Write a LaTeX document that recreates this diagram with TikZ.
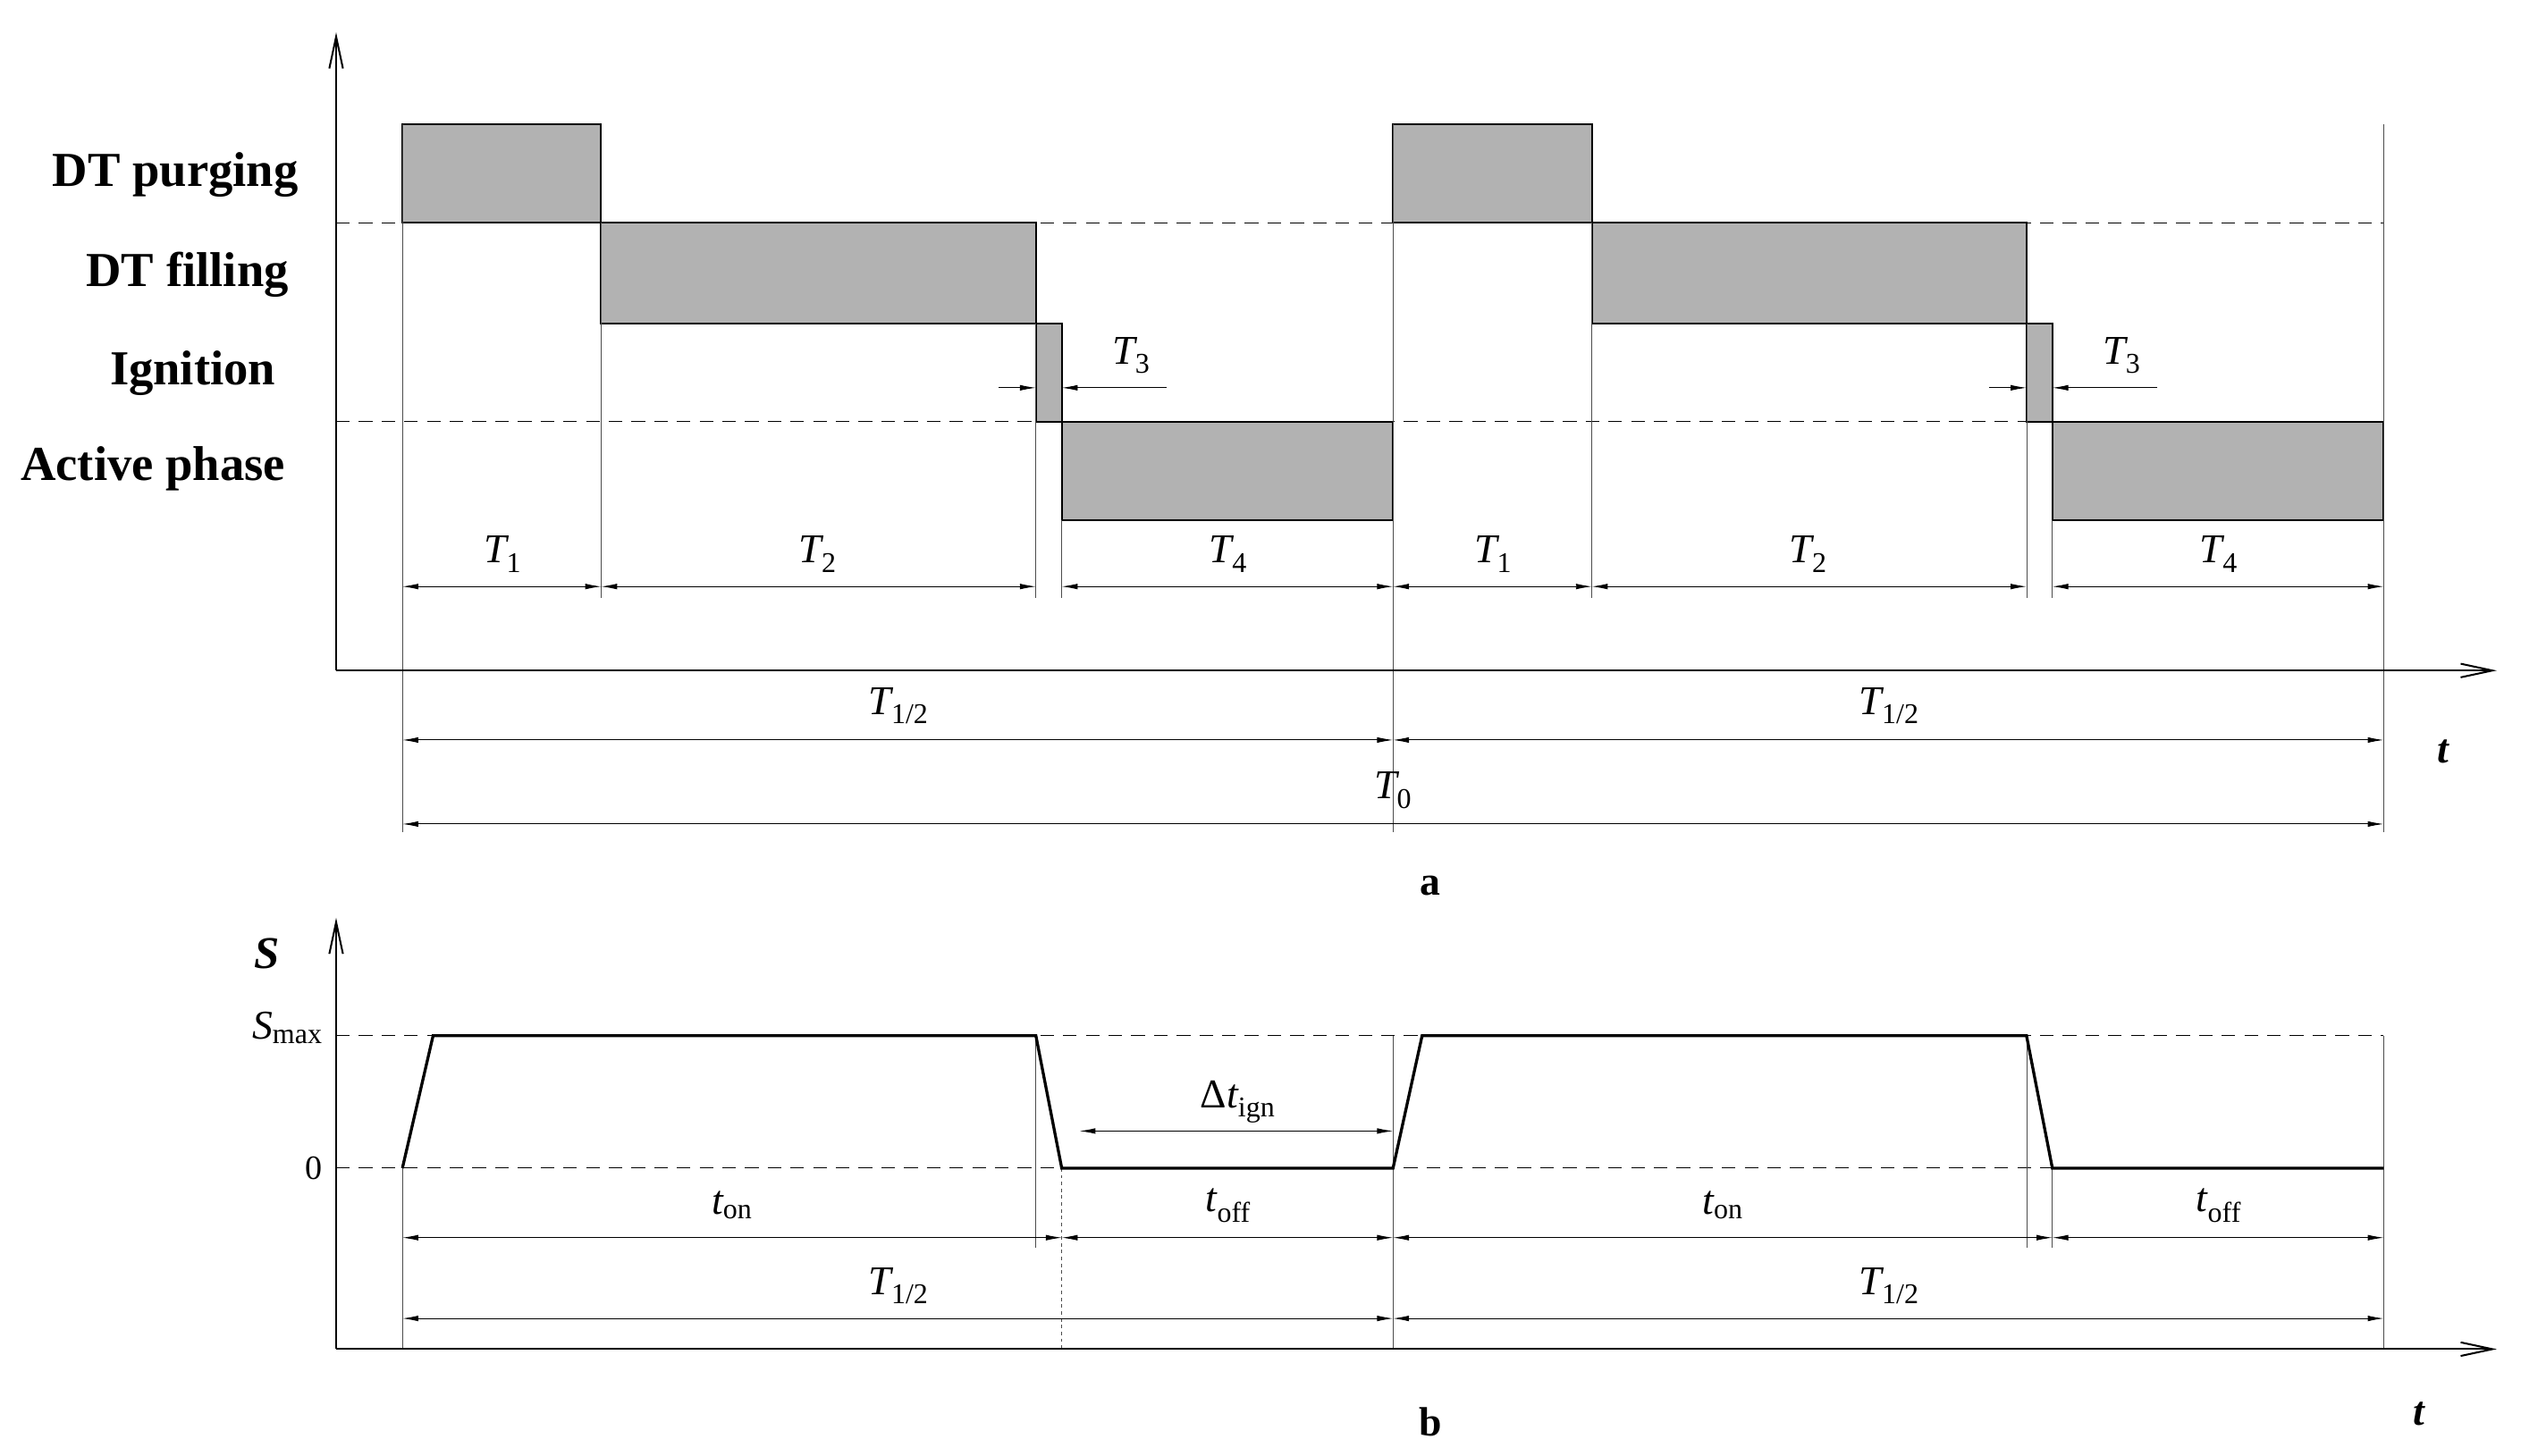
\documentclass[tikz,border=0pt]{standalone}
\usepackage{fontspec}
\setmainfont{Liberation Serif}
\usetikzlibrary{arrows.meta}
\begin{document}
\begin{tikzpicture}[x=0.05cm,y=-0.05cm,
 ax/.style={line width=1.6pt,-{Straight Barb[length=28pt,width=12pt]}},
 box/.style={draw,line width=1.6pt,fill=black!30},
 dsh/.style={dashed,line width=0.8pt,dash pattern=on 12pt off 8pt},
 thin/.style={line width=0.5pt,black!70},
 dim/.style={line width=0.7pt,{Latex[length=14pt,width=5pt]}-{Latex[length=14pt,width=5pt]}},
 lab/.style={font=\fontsize{43}{48}\selectfont\bfseries,anchor=east},
 tl/.style={font=\fontsize{36}{40}\selectfont\itshape},
 wave/.style={line width=2.6pt}]
\useasboundingbox (0,0) rectangle (1560,901);
% part a
\foreach \o in {0,613}{
 \draw[box] (249+\o,77) rectangle (372+\o,138);
 \draw[box] (372+\o,138) rectangle (641+\o,200);
 \draw[box] (641+\o,200) rectangle (657+\o,261);
 \draw[box] (657+\o,261) rectangle (862+\o,322);
}
\draw[dsh] (208,138) -- (1475,138);
\draw[dsh] (208,261) -- (1475,261);
\foreach \x/\a/\b in {249/77/515,372/138/370,641/200/370,657/322/370,862/77/515,985/138/370,1254/200/370,1270/322/370,1475/77/515}
 \draw[thin] (\x,\a) -- (\x,\b);
\draw[ax] (208,415) -- (208,20);
\draw[ax] (208,415) -- (1545,415);
\node[lab] (l1) at (187,108) {DT purging};
\node[lab] (l2) at (181,170) {DT filling};
\node[lab] (l3) at (173,231) {Ignition};
\node[lab] (l4) at (179,290) {Active phase};
\foreach \o in {0,613}{
 \draw[dim] (249+\o,363) -- (372+\o,363);
 \draw[dim] (372+\o,363) -- (641+\o,363);
 \draw[dim] (657+\o,363) -- (862+\o,363);
 \node[tl] at (311+\o,343) {T\textsubscript{\upshape 1}};
 \node[tl] at (506+\o,343) {T\textsubscript{\upshape 2}};
 \node[tl] at (760+\o,343) {T\textsubscript{\upshape 4}};
 \draw[line width=0.7pt,-{Latex[length=14pt,width=5pt]}] (618+\o,240) -- (641+\o,240);
 \draw[line width=0.7pt,-{Latex[length=14pt,width=5pt]}] (722+\o,240) -- (657+\o,240);
 \node[tl] at (700+\o,220) {T\textsubscript{\upshape 3}};
 \draw[dim] (249+\o,458) -- (862+\o,458);
 \node[tl] at (556+\o,437) {T\textsubscript{\upshape 1/2}};
}
\draw[dim] (249,510) -- (1475,510);
\node[tl] at (862,489) {T\textsubscript{\upshape 0}};
\node[font=\fontsize{36}{40}\selectfont\bfseries\itshape] at (1512,465) {t};
\node[font=\fontsize{36}{40}\selectfont\bfseries] at (885,548) {a};
% part b
\draw[dsh] (208,641) -- (1475,641);
\draw[dsh] (208,723) -- (1475,723);
\draw[thin] (249,723) -- (249,835);
\draw[thin,dashed] (657,723) -- (657,835);
\draw[thin] (862,641) -- (862,835);
\draw[thin] (1270,723) -- (1270,772);
\draw[thin] (1475,641) -- (1475,835);
\draw[thin] (641,641) -- (641,772);
\draw[thin] (1254,641) -- (1254,772);
\draw[ax] (208,835) -- (208,568);
\draw[ax] (208,835) -- (1545,835);
\draw[wave] (249,723) -- (268,641) -- (641,641) -- (657,723) -- (862,723) -- (880,641) -- (1254,641) -- (1270,723) -- (1475,723);
\draw[dim] (668,700) -- (862,700);
\node[tl] at (766,682) {\upshape Δ\itshape t\textsubscript{\upshape ign}};
\foreach \o in {0,613}{
 \draw[dim] (249+\o,766) -- (657+\o,766);
 \draw[dim] (657+\o,766) -- (862+\o,766);
 \node[tl] at (453+\o,746) {t\textsubscript{\upshape on}};
 \node[tl] at (760+\o,746) {t\textsubscript{\upshape off}};
 \draw[dim] (249+\o,816) -- (862+\o,816);
 \node[tl] at (556+\o,796) {T\textsubscript{\upshape 1/2}};
}
\node[font=\fontsize{40}{44}\selectfont\bfseries\itshape] at (165,590) {S};
\node[tl,anchor=east] at (202,636) {S\textsubscript{\upshape max}};
\node[font=\fontsize{30}{34}\selectfont,anchor=east] at (202,723) {0};
\node[font=\fontsize{36}{40}\selectfont\bfseries] at (885,880) {b};
\node[font=\fontsize{36}{40}\selectfont\bfseries\itshape] at (1497,875) {t};
\end{tikzpicture}
\end{document}
